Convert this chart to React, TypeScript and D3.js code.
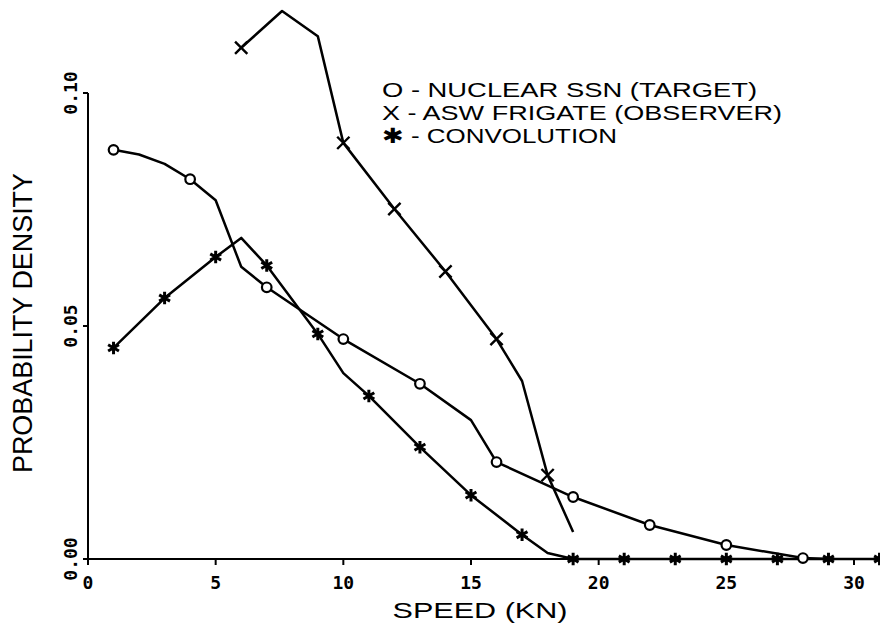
import React from "react";
import * as d3 from "d3";

// ---- data ----
const ssnSpeed = [1, 2, 3, 4, 5, 6, 7, 10, 13, 15, 16, 19, 22, 25, 28, 29];
const ssnValue = [0.0878, 0.0868, 0.0848, 0.0815, 0.077, 0.0627, 0.0583, 0.0472, 0.0376, 0.0298, 0.0208, 0.0133, 0.0073, 0.003, 0.0002, 0.0];
const ssnMarkerSpeed = [1, 4, 7, 10, 13, 16, 19, 22, 25, 28];

const frigateSpeed = [6, 7.6, 9, 10, 12, 14, 16, 17, 18, 19];
const frigateValue = [0.1097, 0.1176, 0.1122, 0.0893, 0.0751, 0.0617, 0.0472, 0.0382, 0.018, 0.0058];
const frigateMarkerSpeed = [6, 10, 12, 14, 16, 18];

const convSpeed = [1, 3, 5, 6, 7, 9, 10, 11, 13, 15, 17, 18, 19, 21, 23, 25, 27, 29, 31];
const convValue = [0.0453, 0.056, 0.0648, 0.0689, 0.063, 0.0483, 0.0399, 0.035, 0.024, 0.0137, 0.0052, 0.0013, 0, 0, 0, 0, 0, 0, 0];
const convMarkerSpeed = [1, 3, 5, 7, 9, 11, 13, 15, 17, 19, 21, 23, 25, 27, 29, 31];

const xTicks = [0, 5, 10, 15, 20, 25, 30];
const xTickLabels = ["0", "5", "10", "15", "20", "25", "30"];
const yTicks = [0, 0.05, 0.1];
const yTickLabels = ["0.00", "0.05", "0.10"];

const legendLines = ["O - NUCLEAR SSN (TARGET)", "X - ASW FRIGATE (OBSERVER)", "\u2731 - CONVOLUTION"];
const xTitle = "SPEED (KN)";
const yTitle = "PROBABILITY DENSITY";

export default function App() {
  const x = d3.scaleLinear().domain([0, 30]).range([88, 854]);
  const y = d3.scaleLinear().domain([0, 0.1]).range([559, 93]);

  const line = d3
    .line<[number, number]>()
    .x((d) => x(d[0]))
    .y((d) => y(d[1]));

  const zip = (s: number[], v: number[]) => s.map((d, i) => [d, v[i]] as [number, number]);
  const lookup = (s: number[], v: number[], sp: number) => v[s.indexOf(sp)];

  const xSym = d3.symbol().type(d3.symbolX).size(100)();
  const starSym = d3.symbol().type(d3.symbolAsterisk).size(110)();

  const font = "'Liberation Sans', 'DejaVu Sans', sans-serif";
  const monoBold = "'DejaVu Sans Mono', monospace";
  const stroke = "#000";

  return (
    <svg
      width={880}
      height={628}
      style={{ position: "fixed", left: 0, top: 0, background: "#fff" }}
    >
      <rect width={880} height={628} fill="#fff" />
      {/* axes */}
      <line x1={x(0)} x2={x(0)} y1={y(0.1)} y2={y(0) + 1} stroke={stroke} strokeWidth={2} />
      <line x1={x(0) - 1} x2={880} y1={y(0)} y2={y(0)} stroke={stroke} strokeWidth={2.2} />
      {yTicks.map((t, i) => (
        <g key={"yt" + i}>
          <line x1={x(0) - 5} x2={x(0)} y1={y(t)} y2={y(t)} stroke={stroke} strokeWidth={2} />
          <text
            transform={`translate(${77},${y(t)}) rotate(-90)`}
            textAnchor="middle"
            fontFamily={monoBold}
            fontWeight="bold"
            fontSize={18}
            fill="#000"
          >
            {yTickLabels[i]}
          </text>
        </g>
      ))}
      {xTicks.map((t, i) => (
        <g key={"xt" + i}>
          <line x1={x(t)} x2={x(t)} y1={y(0)} y2={y(0) + 6} stroke={stroke} strokeWidth={2} />
          <text
            x={x(t)}
            y={589}
            textAnchor="middle"
            fontFamily={monoBold}
            fontWeight="bold"
            fontSize={18}
            fill="#000"
          >
            {xTickLabels[i]}
          </text>
        </g>
      ))}

      {/* titles */}
      <text
        x={480}
        y={618}
        textAnchor="middle"
        fontFamily={font}
        fontSize={22}
        textLength={175}
        lengthAdjust="spacingAndGlyphs"
        fill="#000"
      >
        {xTitle}
      </text>
      <text
        transform={`translate(32,323) rotate(-90)`}
        textAnchor="middle"
        fontFamily={font}
        fontSize={27}
        textLength={300}
        lengthAdjust="spacingAndGlyphs"
        fill="#000"
      >
        {yTitle}
      </text>

      {/* series lines */}
      <path d={line(zip(ssnSpeed, ssnValue)) || ""} fill="none" stroke={stroke} strokeWidth={2.5} strokeLinejoin="round" />
      <path d={line(zip(frigateSpeed, frigateValue)) || ""} fill="none" stroke={stroke} strokeWidth={2.5} strokeLinejoin="round" />
      <path d={line(zip(convSpeed, convValue)) || ""} fill="none" stroke={stroke} strokeWidth={2.5} strokeLinejoin="round" />

      {/* markers */}
      {ssnMarkerSpeed.map((s) => (
        <circle
          key={"c" + s}
          cx={x(s)}
          cy={y(lookup(ssnSpeed, ssnValue, s))}
          r={4.8}
          fill="#fff"
          stroke={stroke}
          strokeWidth={2.2}
        />
      ))}
      {frigateMarkerSpeed.map((s) => (
        <path
          key={"x" + s}
          d={xSym || ""}
          transform={`translate(${x(s)},${y(lookup(frigateSpeed, frigateValue, s))})`}
          fill="none"
          stroke={stroke}
          strokeWidth={2.4}
        />
      ))}
      {convMarkerSpeed.map((s) => (
        <path
          key={"s" + s}
          d={starSym || ""}
          transform={`translate(${x(s)},${y(lookup(convSpeed, convValue, s))})`}
          fill="none"
          stroke={stroke}
          strokeWidth={3}
        />
      ))}

      {/* legend */}
      {legendLines.map((t, i) => (
        <text
          key={"lg" + i}
          x={382}
          y={97 + i * 23}
          fontFamily={font}
          fontSize={21}
          textLength={[375, 400, 235][i]}
          lengthAdjust="spacingAndGlyphs"
          fill="#000"
        >
          {t}
        </text>
      ))}
    </svg>
  );
}
